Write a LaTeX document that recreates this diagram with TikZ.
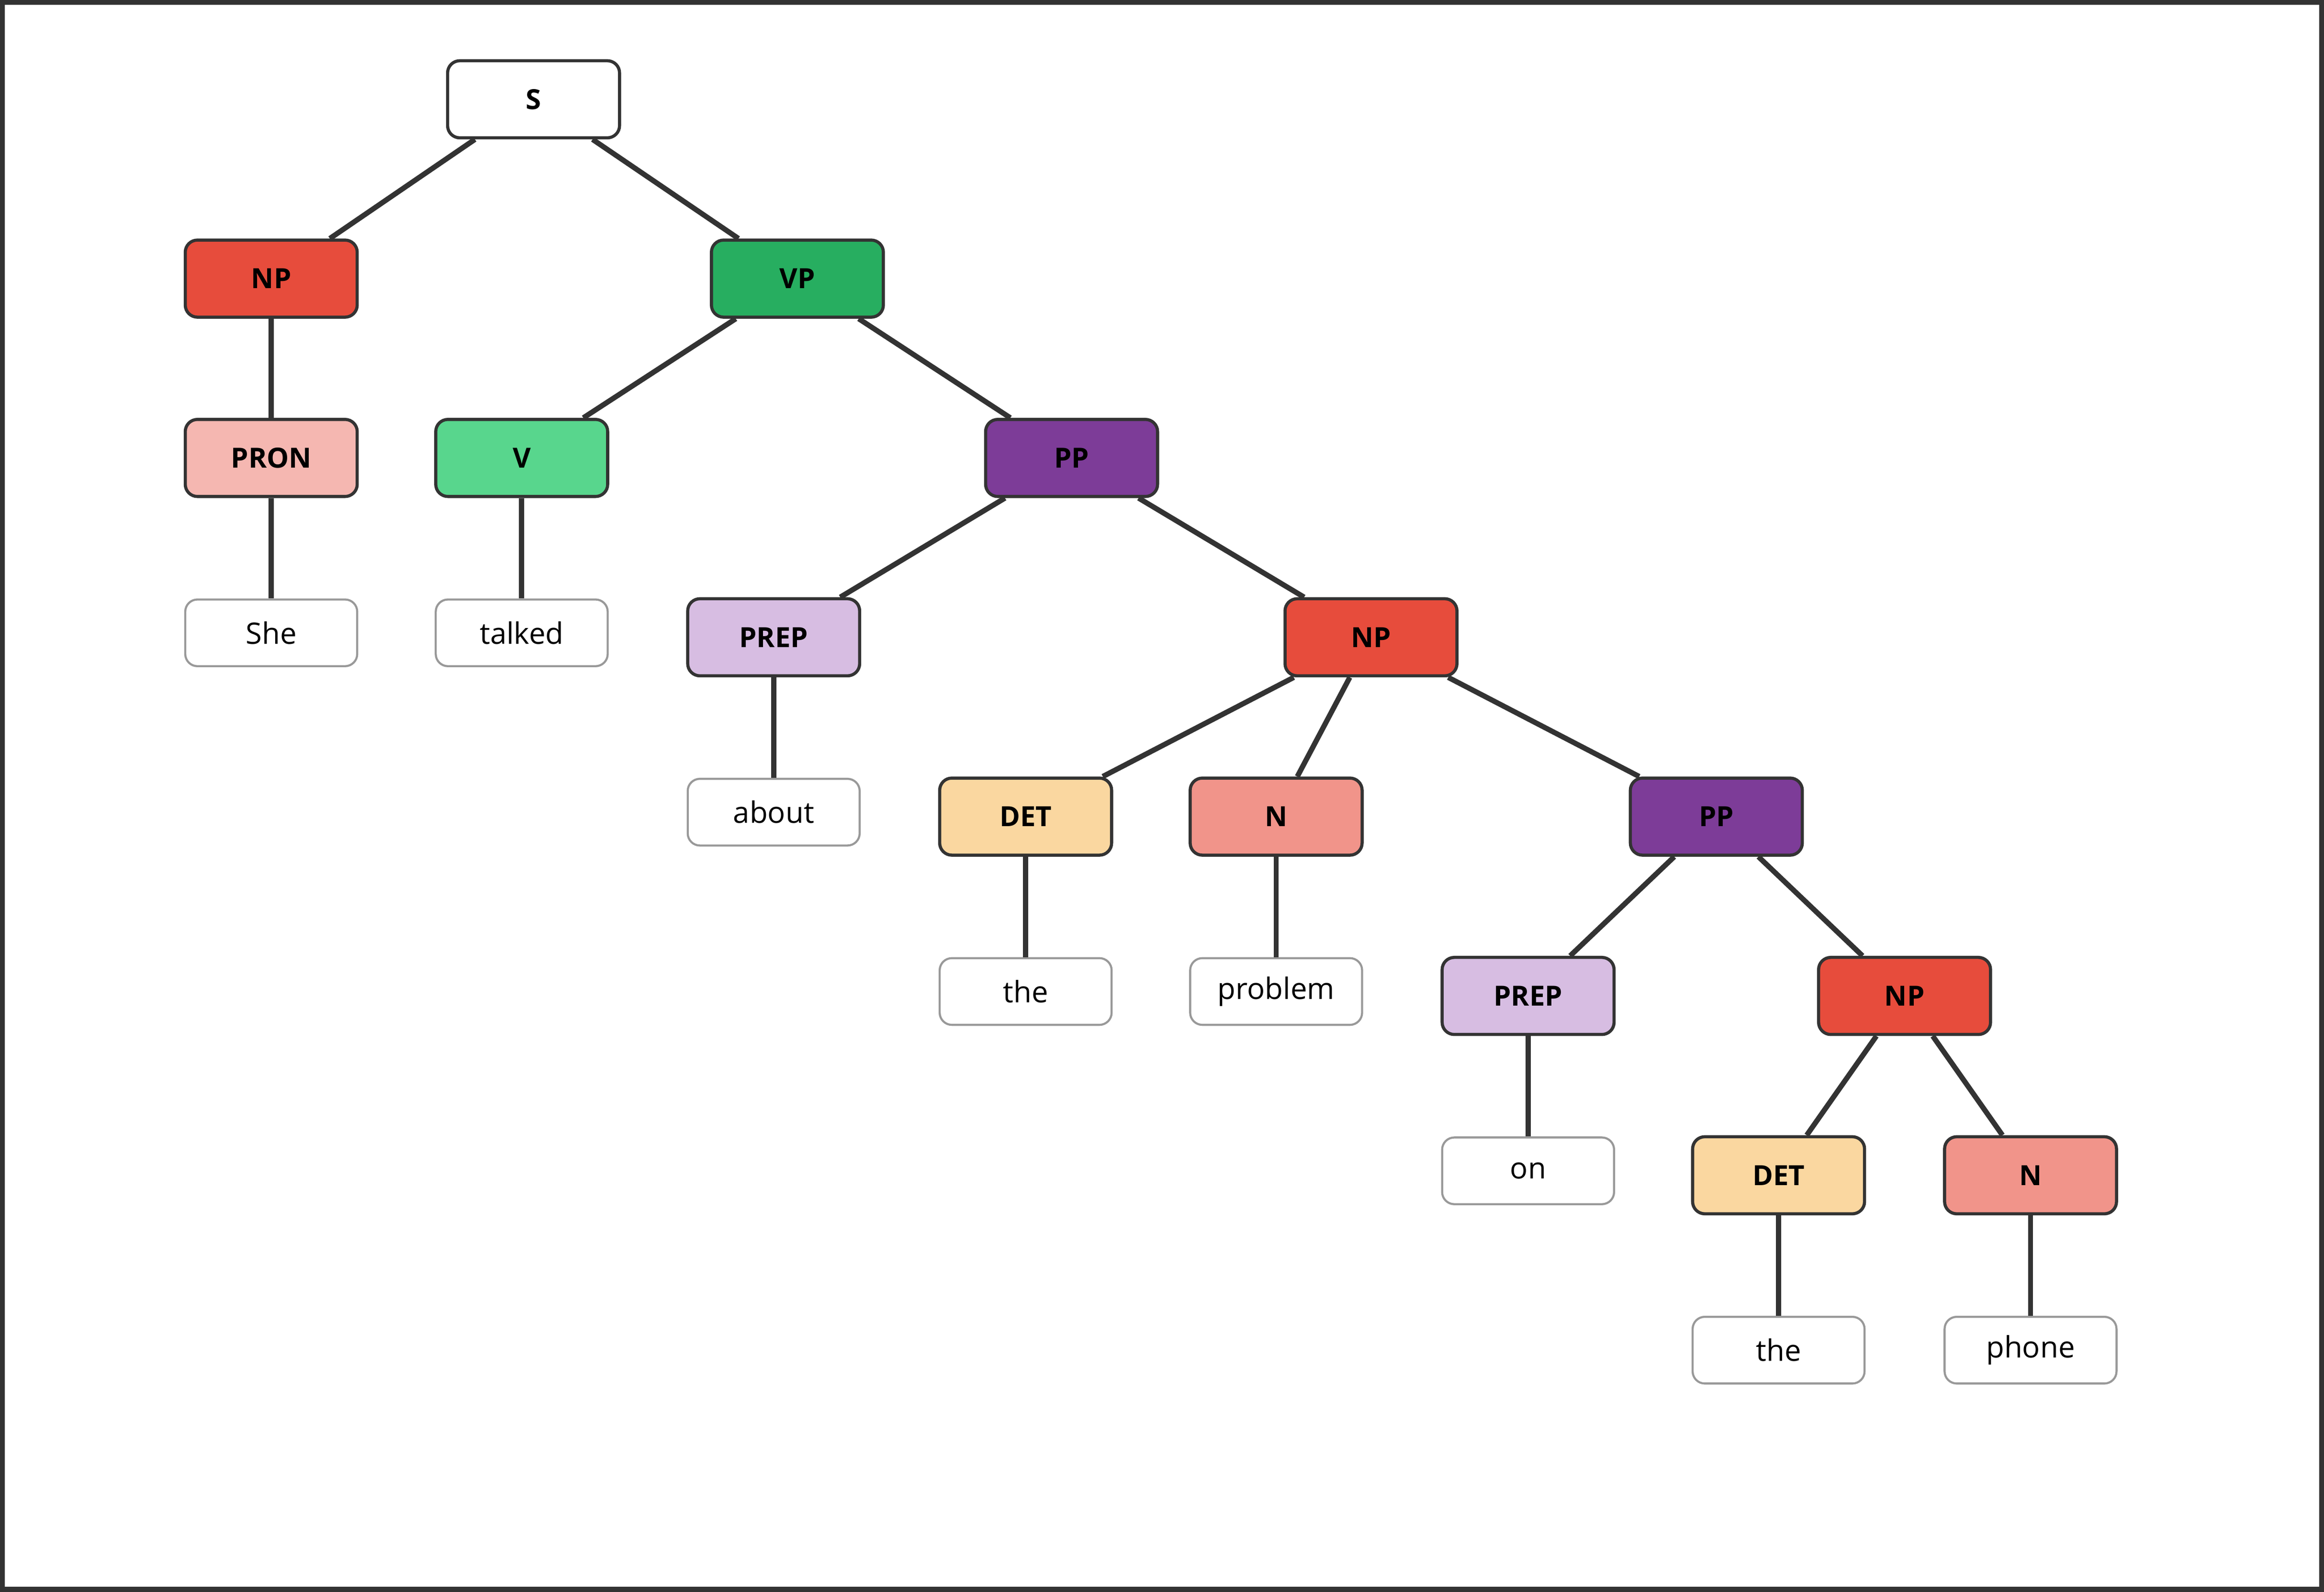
\documentclass[tikz,border=0pt]{standalone}
\usepackage{fontspec}
\setmainfont{Open Sans}
\begin{document}
\begin{tikzpicture}[x=0.03cm,y=-0.03cm,
 cat/.style={draw=black!80,line width=1.8pt,rounded corners=7pt,minimum width=3.48cm,minimum height=1.56cm,font=\fontsize{16}{18}\selectfont\bfseries,inner sep=0pt},
 leaf/.style={draw=black!40,line width=1.2pt,rounded corners=7pt,minimum width=3.48cm,minimum height=1.35cm,font=\fontsize{17}{19}\selectfont,inner sep=0pt,fill=white},
 edge/.style={draw=black!80,line width=3pt}]
\definecolor{cNP}{HTML}{E74C3C}\definecolor{cVP}{HTML}{27AE60}\definecolor{cV}{HTML}{58D68D}
\definecolor{cPP}{HTML}{7D3C98}\definecolor{cPREP}{HTML}{D7BDE2}\definecolor{cDET}{HTML}{FAD7A0}
\definecolor{cN}{HTML}{F1948A}\definecolor{cPRON}{HTML}{F5B7B1}
\useasboundingbox (0,0) rectangle (1568,1074);
\draw[black!80,line width=3pt] (1.5,1.5) rectangle (1566.5,1072.5);
\node[cat,fill=white] (S) at (360,67) {S};
\node[cat,fill=cNP] (NP1) at (183,188) {NP};
\node[cat,fill=cVP] (VP) at (538,188) {VP};
\node[cat,fill=cPRON] (PRON) at (183,309) {PRON};
\node[cat,fill=cV] (V) at (352,309) {V};
\node[cat,fill=cPP] (PP1) at (723,309) {PP};
\node[leaf] (she) at (183,427) {She};
\node[leaf] (talked) at (352,427) {talked};
\node[cat,fill=cPREP] (PREP1) at (522,430) {PREP};
\node[cat,fill=cNP] (NP2) at (925,430) {NP};
\node[leaf] (about) at (522,548) {about};
\node[cat,fill=cDET] (DET1) at (692,551) {DET};
\node[cat,fill=cN] (N1) at (861,551) {N};
\node[cat,fill=cPP] (PP2) at (1158,551) {PP};
\node[leaf] (the1) at (692,669) {the};
\node[leaf] (problem) at (861,669) {problem};
\node[cat,fill=cPREP] (PREP2) at (1031,672) {PREP};
\node[cat,fill=cNP] (NP3) at (1285,672) {NP};
\node[leaf] (on) at (1031,790) {on};
\node[cat,fill=cDET] (DET2) at (1200,793) {DET};
\node[cat,fill=cN] (N2) at (1370,793) {N};
\node[leaf] (the2) at (1200,911) {the};
\node[leaf] (phone) at (1370,911) {phone};
\begin{scope}[on background layer/.style={}]
\foreach \a/\b in {S/NP1,S/VP,NP1/PRON,VP/V,VP/PP1,PRON/she,V/talked,PP1/PREP1,PP1/NP2,PREP1/about,NP2/DET1,NP2/N1,NP2/PP2,DET1/the1,N1/problem,PP2/PREP2,PP2/NP3,PREP2/on,NP3/DET2,NP3/N2,DET2/the2,N2/phone}
 \draw[edge] (\a) -- (\b);
\end{scope}
\end{tikzpicture}
\end{document}
